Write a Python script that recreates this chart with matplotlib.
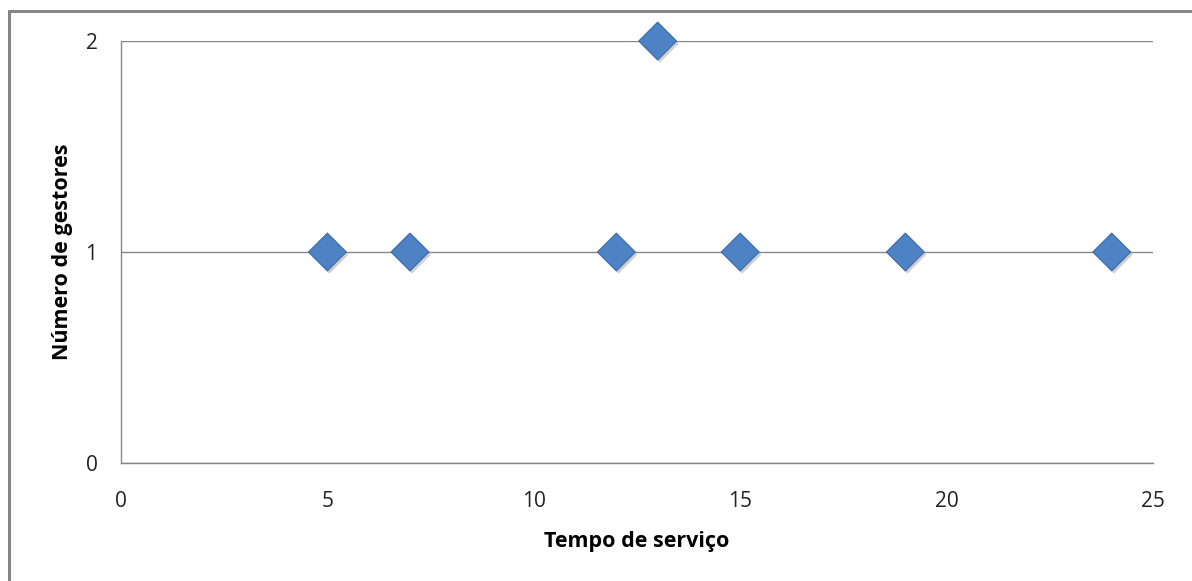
import matplotlib.pyplot as plt
import matplotlib.patheffects as pe
from matplotlib.patches import Rectangle

# tempo de serviço (anos) vs número de gestores
tempo_servico = [5, 7, 12, 13, 15, 19, 24]
num_gestores = [1, 1, 1, 2, 1, 1, 1]

x_ticks = [0, 5, 10, 15, 20, 25]
y_ticks = [0, 1, 2]

plt.rcParams['font.family'] = ['Open Sans', 'DejaVu Sans']

fig = plt.figure(figsize=(11.92, 5.81), dpi=100)
ax = fig.add_axes([0.1015, 0.2031, 0.8658, 0.7263])

# outer chart border
fig.patches.append(Rectangle((9 / 1192, -0.1), 1.2, 1 - 11 / 581 + 0.1,
                             transform=fig.transFigure, fill=False,
                             edgecolor='#868686', linewidth=2.2))

ax.scatter(tempo_servico, num_gestores, marker='D', s=370, color='#4d82c4',
           edgecolors='#3a6aa8', linewidths=0.8, zorder=3, clip_on=False,
           path_effects=[pe.SimplePatchShadow(offset=(1.5, -2), shadow_rgbFace='#777777', alpha=0.35),
                         pe.Normal()])

ax.set_xlim(0, 25)
ax.set_ylim(0, 2)
ax.set_xticks(x_ticks)
ax.set_yticks(y_ticks)
ax.tick_params(axis='both', length=0, labelsize=15, colors='#222222')
ax.tick_params(axis='x', pad=20)
ax.tick_params(axis='y', pad=17)

ax.grid(axis='y', color='#888888', linewidth=1.0)
ax.set_axisbelow(True)
for side in ['top', 'right']:
    ax.spines[side].set_visible(False)
for side in ['left', 'bottom']:
    ax.spines[side].set_color('#888888')
    ax.spines[side].set_linewidth(1.0)

ax.set_xlabel('Tempo de serviço', fontsize=15.5, fontweight='bold', labelpad=14)
ax.set_ylabel('Número de gestores', fontsize=15.5, fontweight='bold', labelpad=9)

fig.savefig('out.png', dpi=100)
